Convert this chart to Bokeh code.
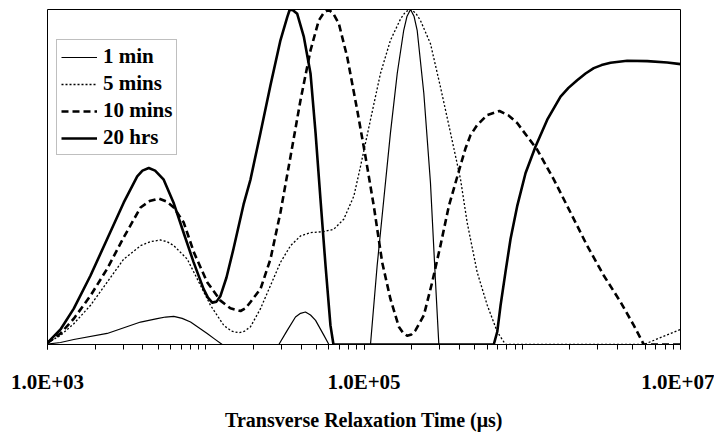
import numpy as np
from bokeh.plotting import figure
from bokeh.models import Range1d, FixedTicker, Legend, LegendItem
from bokeh.embed import file_html
from bokeh.resources import INLINE

# T2 distributions: log10 of relaxation time (us) and normalised amplitude
log_t_1min = [3.000, 3.082, 3.166, 3.377, 3.588, 3.693, 3.746, 3.798, 3.851,
              3.904, 4.009, 4.057, 4.104,
              4.462, 4.515, 4.567, 4.599, 4.630, 4.662, 4.694, 4.746, 4.778,
              5.041, 5.083, 5.125, 5.167, 5.210, 5.251, 5.272, 5.294, 5.316,
              5.336, 5.378, 5.420, 5.452, 5.473, 7.000]
amp_1min = [0.001, 0.006, 0.015, 0.033, 0.067, 0.077, 0.082, 0.084, 0.078,
            0.067, 0.033, 0.016, 0.000,
            0.000, 0.042, 0.082, 0.093, 0.097, 0.088, 0.072, 0.028, 0.000,
            0.000, 0.235, 0.433, 0.631, 0.809, 0.938, 0.980, 1.000, 0.980,
            0.938, 0.750, 0.483, 0.186, 0.000, 0.000]

log_t_5min = [3.000, 3.082, 3.166, 3.272, 3.377, 3.482, 3.588, 3.652, 3.714,
              3.756, 3.798, 3.883, 3.946, 4.030, 4.114, 4.163, 4.209, 4.246,
              4.283, 4.346, 4.409, 4.472, 4.536, 4.599, 4.662, 4.746, 4.809,
              4.872, 4.936, 4.978, 5.041, 5.104, 5.167, 5.231, 5.262, 5.294,
              5.326, 5.357, 5.420, 5.483, 5.547, 5.610, 5.652, 5.715, 5.779,
              5.842, 5.894, 6.768, 7.000]
amp_5min = [0.005, 0.027, 0.062, 0.117, 0.186, 0.255, 0.295, 0.307, 0.312,
            0.307, 0.295, 0.255, 0.196, 0.117, 0.057, 0.040, 0.035, 0.040,
            0.053, 0.107, 0.176, 0.245, 0.295, 0.324, 0.334, 0.337, 0.344,
            0.374, 0.443, 0.532, 0.671, 0.809, 0.908, 0.972, 0.993, 1.000,
            0.990, 0.967, 0.898, 0.769, 0.631, 0.493, 0.364, 0.216, 0.117,
            0.038, 0.000, 0.000, 0.045]

log_t_10min = [3.000, 3.082, 3.166, 3.272, 3.377, 3.482, 3.588, 3.645, 3.703,
               3.752, 3.798, 3.861, 3.925, 4.009, 4.093, 4.156, 4.220, 4.251,
               4.283, 4.346, 4.409, 4.472, 4.536, 4.599, 4.662, 4.714, 4.746,
               4.778, 4.809, 4.841, 4.894, 4.957, 5.009, 5.062, 5.115, 5.167,
               5.220, 5.246, 5.273, 5.300, 5.325, 5.378, 5.431, 5.483, 5.536,
               5.610, 5.641, 5.673, 5.715, 5.779, 5.856, 5.913, 5.968, 6.094,
               6.199, 6.305, 6.410, 6.515, 6.621, 6.705, 6.768, 7.000]
amp_10min = [0.005, 0.033, 0.077, 0.146, 0.226, 0.320, 0.409, 0.428, 0.436,
             0.427, 0.409, 0.364, 0.275, 0.186, 0.131, 0.108, 0.100, 0.108,
             0.127, 0.166, 0.255, 0.394, 0.562, 0.730, 0.878, 0.967, 0.990,
             1.000, 0.985, 0.958, 0.858, 0.700, 0.562, 0.413, 0.245, 0.136,
             0.053, 0.035, 0.026, 0.030, 0.042, 0.087, 0.186, 0.295, 0.413,
             0.535, 0.585, 0.625, 0.655, 0.685, 0.697, 0.684, 0.661, 0.582,
             0.493, 0.394, 0.295, 0.206, 0.127, 0.057, 0.000, 0.000]

log_t_20hrs = [3.000, 3.082, 3.166, 3.272, 3.377, 3.482, 3.567, 3.600, 3.640,
               3.680, 3.733, 3.796, 3.859, 3.923, 3.986, 4.014, 4.041, 4.068,
               4.093, 4.131, 4.175, 4.239, 4.283, 4.346, 4.409, 4.472, 4.515,
               4.531, 4.551, 4.578, 4.620, 4.662, 4.694, 4.725, 4.757, 4.788,
               4.807, 5.820, 5.842, 5.863, 5.894, 5.926, 5.968, 6.021, 6.084,
               6.158, 6.242, 6.292, 6.347, 6.400, 6.452, 6.501, 6.558, 6.663,
               6.790, 6.916, 7.000]
amp_20hrs = [0.005, 0.045, 0.107, 0.206, 0.315, 0.424, 0.502, 0.519, 0.527,
             0.519, 0.493, 0.424, 0.335, 0.246, 0.166, 0.140, 0.125, 0.128,
             0.145, 0.200, 0.285, 0.418, 0.493, 0.632, 0.774, 0.908, 0.977,
             1.000, 0.998, 0.987, 0.918, 0.809, 0.631, 0.433, 0.235, 0.057,
             0.000, 0.000, 0.038, 0.117, 0.216, 0.315, 0.413, 0.512, 0.591,
             0.671, 0.740, 0.766, 0.789, 0.809, 0.825, 0.834, 0.841, 0.847,
             0.846, 0.842, 0.837]

series_labels = ["1 min", "5 mins", "10 mins", "20 hrs"]
tick_values = [1e3, 1e5, 1e7]
tick_labels = ["1.0E+03", "1.0E+05", "1.0E+07"]
x_title = "Transverse Relaxation Time (\u03bcs)"

SERIF = "Liberation Serif"

p = figure(width=714, height=433, x_axis_type="log",
           x_range=Range1d(1e3, 1e7), y_range=Range1d(0, 1),
           output_backend="svg", toolbar_location=None,
           min_border_left=47, min_border_right=34,
           min_border_top=9, min_border_bottom=87)
p.background_fill_color = "white"
p.border_fill_color = "white"
p.outline_line_color = "black"
p.outline_line_width = 1
p.xgrid.visible = False
p.ygrid.visible = False
p.yaxis.visible = False

styles = [
    dict(line_width=1.2, line_dash="solid"),
    dict(line_width=1.3, line_dash="2 2"),
    dict(line_width=2.6, line_dash="7 4"),
    dict(line_width=2.6, line_dash="solid"),
]
data = [(log_t_1min, amp_1min), (log_t_5min, amp_5min),
        (log_t_10min, amp_10min), (log_t_20hrs, amp_20hrs)]

items = []
for (lt, amp), label, st in zip(data, series_labels, styles):
    r = p.line(10 ** np.array(lt), amp, line_color="black",
               line_join="round", **st)
    items.append(LegendItem(label=label, renderers=[r]))

# Axis: labels every other decade, minor ticks at every 1..9 x 10^k
minor = [m * 10 ** k for k in range(3, 7) for m in range(1, 10)] + [1e7]
p.xaxis.ticker = FixedTicker(ticks=tick_values, minor_ticks=minor)
p.xaxis.major_label_overrides = {v: s for v, s in zip(tick_values, tick_labels)}
p.xaxis.axis_line_color = "black"
p.xaxis.major_tick_line_color = "black"
p.xaxis.minor_tick_line_color = "black"
p.xaxis.major_tick_in = 0
p.xaxis.major_tick_out = 5
p.xaxis.minor_tick_in = 0
p.xaxis.minor_tick_out = 5
p.xaxis.major_label_standoff = 20
p.xaxis.major_label_text_font = SERIF
p.xaxis.major_label_text_font_style = "bold"
p.xaxis.major_label_text_font_size = "21px"
p.xaxis.major_label_text_color = "black"
p.xaxis.axis_label = x_title
p.xaxis.axis_label_text_font = SERIF
p.xaxis.axis_label_text_font_style = "bold"
p.xaxis.axis_label_text_font_size = "20px"
p.xaxis.axis_label_text_color = "black"
p.xaxis.axis_label_standoff = 12

legend = Legend(items=items, location=(9, 189))
legend.label_text_font = SERIF
legend.label_text_font_style = "bold"
legend.label_text_font_size = "21px"
legend.label_text_color = "black"
legend.glyph_width = 36
legend.glyph_height = 22
legend.label_height = 22
legend.label_standoff = 6
legend.spacing = 2
legend.padding = 4
legend.margin = 0
legend.border_line_color = "#808080"
legend.border_line_width = 1
legend.background_fill_color = "white"
legend.background_fill_alpha = 1
p.add_layout(legend)

open("out.html", "w").write(file_html(p, INLINE))
